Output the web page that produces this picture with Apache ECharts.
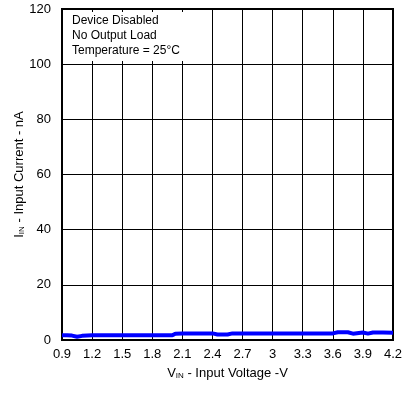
<!DOCTYPE html>
<html><head><meta charset="utf-8">
<script src="https://cdn.jsdelivr.net/npm/echarts@6/dist/echarts.min.js"></script>
<style>html,body{margin:0;padding:0;background:#fff}#c{width:407px;height:401px}</style>
</head><body><div id="c"></div>
<script>
var xVals = [0.9, 0.95, 1.0, 1.05, 1.1, 1.2, 1.4, 1.6, 1.8, 2.0, 2.03, 2.1, 2.3, 2.4, 2.45, 2.55, 2.6, 2.8, 3.0, 3.2, 3.4, 3.6, 3.65, 3.75, 3.8, 3.9, 3.95, 4.0, 4.1, 4.2];
var yVals = [1.7, 1.7, 1.6, 1.2, 1.5, 1.7, 1.7, 1.7, 1.7, 1.7, 2.3, 2.4, 2.4, 2.4, 2.0, 2.0, 2.4, 2.4, 2.4, 2.4, 2.4, 2.4, 2.8, 2.8, 2.3, 2.7, 2.3, 2.7, 2.7, 2.6];
var xTicks = [0.9, 1.2, 1.5, 1.8, 2.1, 2.4, 2.7, 3, 3.3, 3.6, 3.9, 4.2];
var notes = ["Device Disabled", "No Output Load", "Temperature = 25°C"];
var font = "Liberation Sans";
var chart = echarts.init(document.getElementById('c'));
var pts = xVals.map(function(x, i){ return [x, yVals[i]]; });
chart.setOption({
  animation: false,
  grid: {left: 62, right: 14, top: 9, bottom: 61, show: true, borderColor: '#000', borderWidth: 2},
  xAxis: {
    type: 'value', min: 0.9, max: 4.2, interval: 0.3,
    axisLine: {show: true, lineStyle: {color: '#000', width: 2}},
    axisTick: {show: false},
    splitLine: {show: true, lineStyle: {color: '#000', width: 1}},
    axisLabel: {color: '#000', fontFamily: font, fontSize: 13, margin: 8,
      formatter: function(v){ var r = Math.round(v*10)/10; return xTicks.indexOf(r) >= 0 ? String(r) : ''; }},
    name: 'V{sub|IN} - Input Voltage -V', nameLocation: 'middle', nameGap: 26, nameMoveOverlap: false,
    nameTextStyle: {color: '#000', fontFamily: font, fontSize: 13, rich: {sub: {fontSize: 8, verticalAlign: 'bottom', padding: [6,0,0,0], fontFamily: font, color: '#000'}}}
  },
  yAxis: {
    type: 'value', min: 0, max: 120, interval: 20,
    axisLine: {show: true, lineStyle: {color: '#000', width: 2}},
    axisTick: {show: false},
    splitLine: {show: true, lineStyle: {color: '#000', width: 1}},
    axisLabel: {color: '#000', fontFamily: font, fontSize: 13, margin: 11},
    name: 'I{sub|IN} - Input Current - nA', nameLocation: 'middle', nameGap: 36, nameMoveOverlap: false,
    nameTextStyle: {color: '#000', fontFamily: font, fontSize: 13, rich: {sub: {fontSize: 8, verticalAlign: 'bottom', padding: [6,0,0,0], fontFamily: font, color: '#000'}}}
  },
  series: [{
    type: 'line', data: pts, showSymbol: false, symbol: 'none',
    lineStyle: {color: '#0000ff', width: 4}, z: 5
  }],
  graphic: [{type: 'rect', left: 68, top: 12, z: 10, shape: {width: 128, height: 49}, style: {fill: '#fff'}}].concat(notes.map(function(t, i){
    return {type: 'text', left: 72, top: 15 + i*15, z: 11, style: {text: t, fill: '#000', font: '12px "Liberation Sans"'}};
  }))
});
</script></body></html>
